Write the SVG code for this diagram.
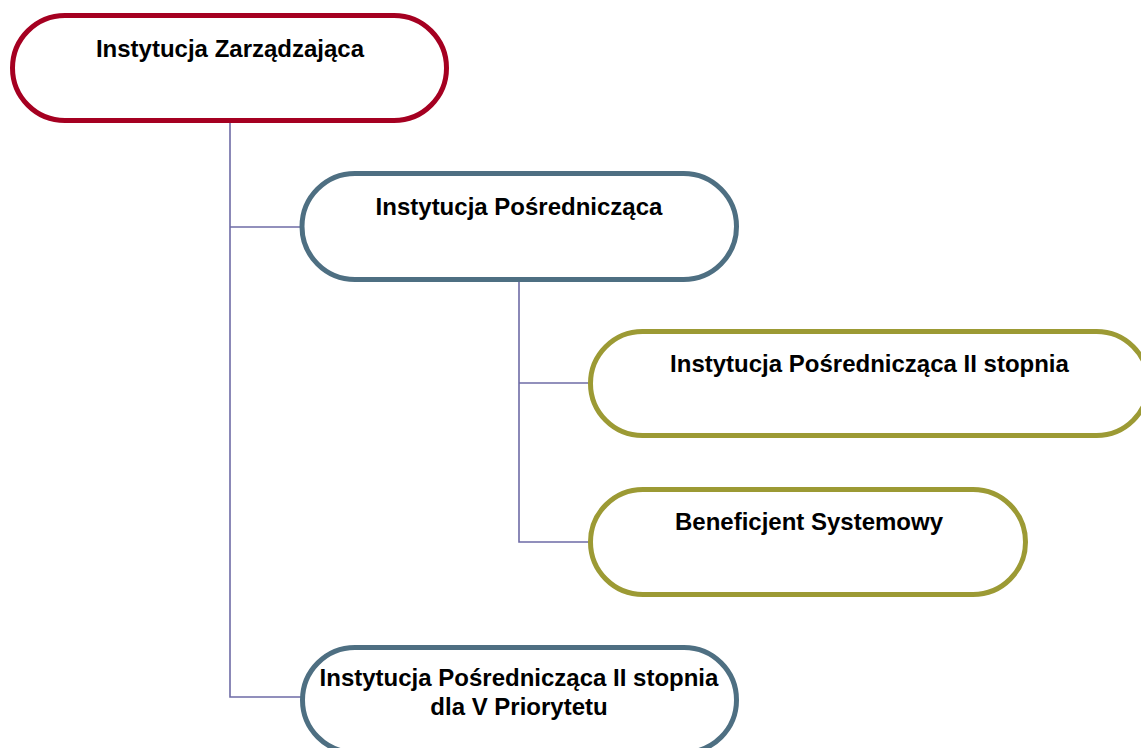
<svg xmlns="http://www.w3.org/2000/svg" width="1141" height="748" viewBox="0 0 1141 748">
<style>
.n{fill:#fff;stroke-width:5}
.red{stroke:#A50021}
.blue{stroke:#4E6F82}
.olive{stroke:#9C9A34}
.t{font-family:"Liberation Sans",Arial,sans-serif;font-weight:bold;font-size:24px;fill:#000;text-anchor:middle}
.c{fill:none;stroke:#6E6BA6;stroke-width:1.6}
</style>
<rect width="1141" height="748" fill="#fff"/>
<g id="connectors">
<polyline class="c" points="230,122 230,697 302,697"/>
<line class="c" x1="230" y1="227" x2="301" y2="227"/>
<polyline class="c" points="519,281 519,542 589,542"/>
<line class="c" x1="519" y1="383" x2="589" y2="383"/>
</g>
<g id="n1">
<rect class="n red" x="12.5" y="15.5" width="434" height="105" rx="52.5"/>
<text class="t" x="230" y="57">Instytucja Zarządzająca</text>
</g>
<g id="n2">
<rect class="n blue" x="302" y="173.5" width="434.5" height="106" rx="53"/>
<text class="t" x="519" y="215">Instytucja Pośrednicząca</text>
</g>
<g id="n3">
<rect class="n olive" x="590.5" y="331.5" width="558" height="104" rx="52"/>
<text class="t" x="869.5" y="372">Instytucja Pośrednicząca II stopnia</text>
</g>
<g id="n4">
<rect class="n olive" x="590.5" y="489.5" width="435" height="105" rx="52.5"/>
<text class="t" x="809" y="530">Beneficjent Systemowy</text>
</g>
<g id="n5">
<rect class="n blue" x="302.5" y="647.5" width="434" height="105" rx="52.5"/>
<text class="t" x="519" y="686">Instytucja Pośrednicząca II stopnia</text>
<text class="t" x="519" y="715">dla V Priorytetu</text>
</g>
</svg>
